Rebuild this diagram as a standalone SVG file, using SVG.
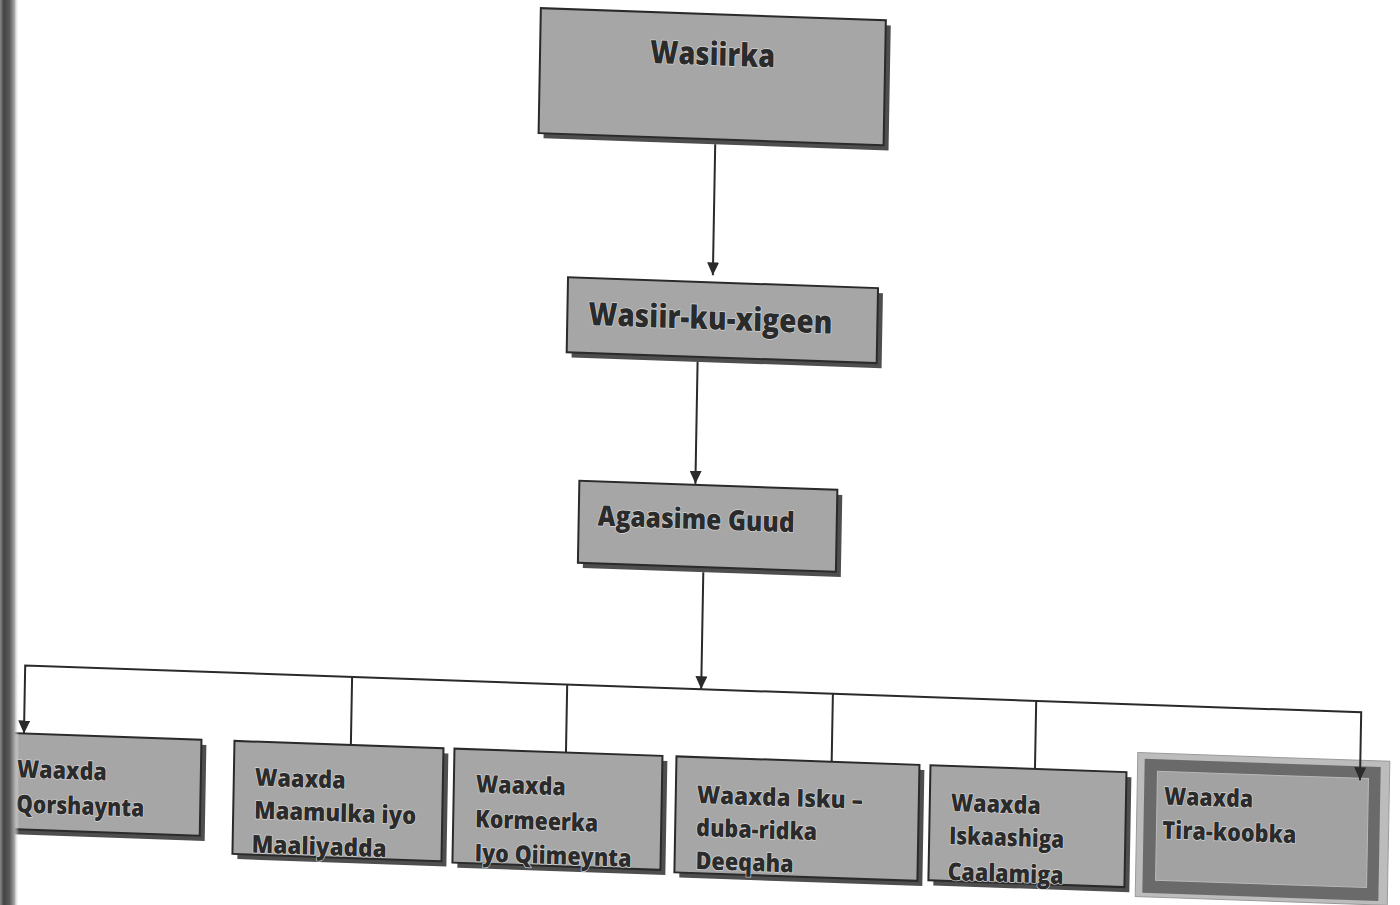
<svg xmlns="http://www.w3.org/2000/svg" width="1400" height="905" viewBox="0 0 1400 905">
<style>
.box{fill:#a6a6a6;stroke:#2a2a2a;stroke-width:2}
.sh{fill:#4e4e4e}
.t{font-family:"Open Sans","Noto Sans","DejaVu Sans",sans-serif;font-weight:800;fill:#2b2b2b;stroke:#d8d8d8;stroke-width:1.4;paint-order:stroke;stroke-linejoin:round}
.big{font-size:32px}
.mid{font-size:28px}
.sm{font-size:24.5px}
.ln{fill:none;stroke:#2a2a2a;stroke-width:2}
</style>
<defs>
<marker id="arr" viewBox="0 0 13 12" refX="13" refY="6" markerWidth="13" markerHeight="12" markerUnits="userSpaceOnUse" orient="auto">
<path d="M0,0 L13,6 L0,12 z" fill="#2a2a2a"/>
</marker>
<linearGradient id="edge" x1="0" y1="0" x2="1" y2="0">
<stop offset="0" stop-color="#8a8a8a"/>
<stop offset="0.2" stop-color="#444444"/>
<stop offset="0.5" stop-color="#5a5a5a"/>
<stop offset="0.75" stop-color="#a0a0a0"/>
<stop offset="1" stop-color="#ffffff" stop-opacity="0"/>
</linearGradient>
</defs>
<rect width="1400" height="905" fill="#ffffff"/>
<g transform="matrix(1,0.035,-0.018,1,8.1,-24.5)">
<g id="wasiirka">
<rect class="sh" x="538" y="19" width="345" height="125"/>
<rect class="box" x="533" y="14" width="345" height="125"/>
<text class="t big" x="643" y="65" textLength="125" lengthAdjust="spacingAndGlyphs">Wasiirka</text>
</g>
<g id="wasiir-ku-xigeen">
<rect class="sh" x="570" y="287" width="310" height="75"/>
<rect class="box" x="565" y="282" width="310" height="75"/>
<text class="t big" x="586" y="329" textLength="244" lengthAdjust="spacingAndGlyphs">Wasiir-ku-xigeen</text>
</g>
<g id="agaasime-guud">
<rect class="sh" x="585" y="490" width="258" height="82"/>
<rect class="box" x="580" y="485" width="258" height="82"/>
<text class="t mid" x="599" y="529" textLength="197" lengthAdjust="spacingAndGlyphs">Agaasime Guud</text>
</g>
<g id="qorshaynta">
<rect class="sh" x="21" y="762" width="191" height="96"/>
<rect class="box" x="16" y="757" width="191" height="96"/>
<text class="t sm" x="23" y="801" textLength="90" lengthAdjust="spacingAndGlyphs">Waaxda</text>
<text class="t sm" x="23" y="836" textLength="128" lengthAdjust="spacingAndGlyphs">Qorshaynta</text>
</g>
<g id="maamulka">
<rect class="sh" x="245" y="762" width="209" height="113"/>
<rect class="box" x="240" y="757" width="209" height="113"/>
<text class="t sm" x="261" y="801" textLength="91" lengthAdjust="spacingAndGlyphs">Waaxda</text>
<text class="t sm" x="261" y="834" textLength="162" lengthAdjust="spacingAndGlyphs">Maamulka iyo</text>
<text class="t sm" x="259" y="868" textLength="135" lengthAdjust="spacingAndGlyphs">Maaliyadda</text>
</g>
<g id="kormeerka">
<rect class="sh" x="465" y="762" width="208" height="114"/>
<rect class="box" x="460" y="757" width="208" height="114"/>
<text class="t sm" x="482" y="800" textLength="90" lengthAdjust="spacingAndGlyphs">Waaxda</text>
<text class="t sm" x="482" y="835" textLength="123" lengthAdjust="spacingAndGlyphs">Kormeerka</text>
<text class="t sm" x="482" y="869" textLength="157" lengthAdjust="spacingAndGlyphs">Iyo Qiimeynta</text>
</g>
<g id="deeqaha">
<rect class="sh" x="687" y="762" width="243" height="116"/>
<rect class="box" x="682" y="757" width="243" height="116"/>
<text class="t sm" x="703" y="803" textLength="166" lengthAdjust="spacingAndGlyphs">Waaxda Isku –</text>
<text class="t sm" x="703" y="836" textLength="121" lengthAdjust="spacingAndGlyphs">duba-ridka</text>
<text class="t sm" x="703" y="869" textLength="98" lengthAdjust="spacingAndGlyphs">Deeqaha</text>
</g>
<g id="caalamiga">
<rect class="sh" x="941" y="762" width="196" height="115"/>
<rect class="box" x="936" y="757" width="196" height="115"/>
<text class="t sm" x="957" y="802" textLength="90" lengthAdjust="spacingAndGlyphs">Waaxda</text>
<text class="t sm" x="956" y="835" textLength="115" lengthAdjust="spacingAndGlyphs">Iskaashiga</text>
<text class="t sm" x="955" y="871" textLength="116" lengthAdjust="spacingAndGlyphs">Caalamiga</text>
</g>
<g id="tira-koobka">
<rect x="1143" y="737" width="252" height="144" fill="#bcbcbc" stroke="#9a9a9a" stroke-width="1"/>
<rect x="1150" y="743" width="236" height="134" fill="#6a6a6a"/>
<rect x="1163" y="755" width="211" height="109" fill="#a2a2a2" stroke="#b8b8b8" stroke-width="1"/>
<text class="t sm" x="1170" y="788" textLength="89" lengthAdjust="spacingAndGlyphs">Waaxda</text>
<text class="t sm" x="1169" y="822" textLength="134" lengthAdjust="spacingAndGlyphs">Tira-koobka</text>
</g>
<g id="connectors">
<path class="ln" d="M709.7,144 V275" marker-end="url(#arr)"/>
<path class="ln" d="M696,362 V484" marker-end="url(#arr)"/>
<path class="ln" d="M705.5,572 V689" marker-end="url(#arr)"/>
<path class="ln" d="M705.5,689 H29.5 V757" marker-end="url(#arr)"/>
<path class="ln" d="M705.5,689 H1365.5 V757" marker-end="url(#arr)"/>
<path class="ln" d="M356.4,689 V757"/>
<path class="ln" d="M571.5,689 V757"/>
<path class="ln" d="M837.2,689 V757"/>
<path class="ln" d="M1040.5,689 V757"/>
</g>
</g>
<rect x="0" y="0" width="19" height="905" fill="url(#edge)"/>
</svg>
